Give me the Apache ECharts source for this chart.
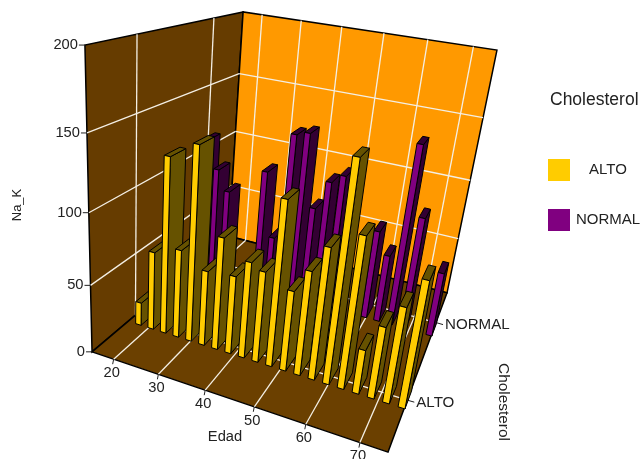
<!DOCTYPE html>
<html><head><meta charset="utf-8">
<style>html,body{margin:0;padding:0;background:#fff}#c{width:644px;height:459px}</style>
<script src="https://cdn.jsdelivr.net/npm/echarts@6/dist/echarts.min.js"></script>
</head><body><div id="c"></div>
<script>
const categories = ['ALTO', 'NORMAL'];
const ages = [17.5,20.5,23.5,26.5,29.5,32.5,35.5,38.5,41.5,44.5,47.5,50.5,53.5,56.5,59.5,62.5,65.5,68.5,71.5,74.5];
const altoValues = [18,60,130,67,142,57,84,59,72,68,120,60,77,96,155,109,33,53,70,91];
const normalValues = [113,91,75,null,null,98,46,131,134,78,101,108,null,null,72,55,142,90,null,52];
const ageTicks = [20,30,40,50,60,70];
const valueTicks = [0,50,100,150,200];
const ageMin = 15, ageMax = 75, valueMax = 200;

// Camera: fitted from the plot box corners [u, v, w] -> [x, y]
const anchors = [
  [[0,0,0],[92,352]], [[1,0,0],[388,452]], [[1,1,0],[447,293]], [[0,1,0],[229,236]],
  [[0,0,1],[85,45]],  [[0,1,1],[243,12]],  [[1,1,1],[497,50]]
];
function fitCamera(pts){
  const rows=[], rhs=[];
  pts.forEach(([[u,v,w],[x,y]])=>{
    rows.push([u,v,w,1,0,0,0,0,-x*u,-x*v,-x*w]); rhs.push(x);
    rows.push([0,0,0,0,u,v,w,1,-y*u,-y*v,-y*w]); rhs.push(y);
  });
  const n=11, M=[];
  for(let i=0;i<n;i++){ M.push([]);
    for(let j=0;j<n;j++){ let s=0; rows.forEach(r=>s+=r[i]*r[j]); M[i].push(s); }
    let s=0; rows.forEach((r,k)=>s+=r[i]*rhs[k]); M[i].push(s);
  }
  for(let c=0;c<n;c++){
    let p=c; for(let r=c+1;r<n;r++) if(Math.abs(M[r][c])>Math.abs(M[p][c])) p=r;
    [M[c],M[p]]=[M[p],M[c]];
    for(let r=0;r<n;r++) if(r!==c){ const f=M[r][c]/M[c][c]; for(let k=c;k<=n;k++) M[r][k]-=f*M[c][k]; }
  }
  return M.map((r,i)=>r[n]/r[i]);
}
const P = fitCamera(anchors);
function proj(u,v,w){
  const d=P[8]*u+P[9]*v+P[10]*w+1;
  return [(P[0]*u+P[1]*v+P[2]*w+P[3])/d,(P[4]*u+P[5]*v+P[6]*w+P[7])/d];
}
const U=a=>(a-ageMin)/(ageMax-ageMin), V=i=>0.25+0.5*i, W=x=>x/valueMax;
const poly=(pts,fill,stroke,lw)=>({type:'polygon',shape:{points:pts},style:{fill:fill,stroke:stroke||'#000',lineWidth:lw==null?1:lw}});
const seg=(a,b,c,lw)=>({type:'line',shape:{x1:a[0],y1:a[1],x2:b[0],y2:b[1]},style:{stroke:c,lineWidth:lw||1}});
const txt=(s,x,y,al,rot,sx)=>({type:'text',x:x,y:y,rotation:rot||0,scaleX:sx||1.05,style:{text:s,fill:'#222',font:'14px "Liberation Sans"',align:al||'center',verticalAlign:'middle'}});
const GRID='#f4efe4', GW=1.3;

function renderFrame(){
  const c=[];
  const A=proj(0,0,0),B=proj(1,0,0),C=proj(1,1,0),D=proj(0,1,0),A1=proj(0,0,1),D1=proj(0,1,1),C1=proj(1,1,1);
  c.push(poly([A,D,D1,A1],'#663C00','#000',1.5));
  c.push(poly([D,C,C1,D1],'#FF9900','#000',1.5));
  c.push(poly([A,B,C,D],'#6B4000','#000',1.5));
  ageTicks.forEach(t=>{const u=U(t);
    c.push(seg(proj(u,0,0),proj(u,1,0),GRID,GW));
    c.push(seg(proj(u,1,0),proj(u,1,1),GRID,GW));
    const p=proj(u,0,0);
    c.push(seg(p,[p[0]-1,p[1]+5],'#222'));
    c.push(txt(String(t),p[0]-2,p[1]+14));
  });
  [0,1].forEach(i=>{const v=V(i);
    c.push(seg(proj(0,v,0),proj(1,v,0),GRID,GW));
    c.push(seg(proj(0,v,0),proj(0,v,1),GRID,GW));
    const p=proj(1,v,0);
    c.push(seg(p,[p[0]+7,p[1]+2],'#222'));
    c.push(txt(categories[i],p[0]+9,p[1]+3,'left',0,1.08));
  });
  valueTicks.forEach(t=>{const w=W(t);
    if(t>0&&t<valueMax){
      c.push(seg(proj(0,0,w),proj(0,1,w),GRID,GW));
      c.push(seg(proj(0,1,w),proj(1,1,w),GRID,GW));
    }
    const p=proj(0,0,w);
    c.push(seg(p,[p[0]-6,p[1]],'#222'));
    c.push(txt(String(t),p[0]-7,p[1],'right'));
  });
  c.push(txt('Edad',225,437));
  c.push(txt('Cholesterol',503,402,'center',-Math.PI/2,1.1));
  const t2=txt('Na_K',17,205,'center',Math.PI/2,1); t2.style.font='13px "Liberation Sans"'; c.push(t2);
  return {type:'group',children:c};
}
const HU=0.011, HV=0.048, ROW_SHIFT=[0.003,-0.052];
function renderBar(params,api){
  const val=api.value(2);
  if(val==null||isNaN(val)) return null;
  const i=api.value(1);
  const u=U(api.value(0)), v=V(i)+ROW_SHIFT[i], w=W(val);
  const col=i===0?['#FFCC00','#665200']:['#800080','#330033'];
  const p=(a,b,h)=>proj(u+a*HU,v+b*HV,h);
  return {type:'group',children:[
    poly([p(1,-1,0),p(1,1,0),p(1,1,w),p(1,-1,w)],col[1]),
    poly([p(-1,-1,w),p(1,-1,w),p(1,1,w),p(-1,1,w)],col[1]),
    poly([p(-1,-1,0),p(1,-1,0),p(1,-1,w),p(-1,-1,w)],col[0])
  ]};
}
const rows=(vals,i)=>ages.map((a,k)=>[a,i,vals[k]]);
const chart=echarts.init(document.getElementById('c'),null,{renderer:'canvas'});
chart.setOption({
  animation:false,
  backgroundColor:'#fff',
  title:{text:'Cholesterol',left:545,top:86,textStyle:{fontSize:17.5,fontWeight:'normal',color:'#222',fontFamily:'Liberation Sans'}},
  legend:{data:categories,orient:'vertical',left:543,top:154,itemWidth:22,itemHeight:22,itemGap:28,icon:'rect',selectedMode:false,
    formatter:n=>'{c|'+n+'}',
    textStyle:{fontSize:15,color:'#222',fontFamily:'Liberation Sans',rich:{c:{width:66,align:'center',fontSize:15,color:'#222',fontFamily:'Liberation Sans'}}}},
  series:[
    {type:'custom',name:'frame',coordinateSystem:'none',silent:true,z:1,data:[[0]],renderItem:renderFrame},
    {type:'custom',name:categories[1],coordinateSystem:'none',silent:true,z:2,itemStyle:{color:'#800080'},data:rows(normalValues,1),renderItem:renderBar},
    {type:'custom',name:categories[0],coordinateSystem:'none',silent:true,z:3,itemStyle:{color:'#FFCC00'},data:rows(altoValues,0),renderItem:renderBar}
  ]
});
</script></body></html>
